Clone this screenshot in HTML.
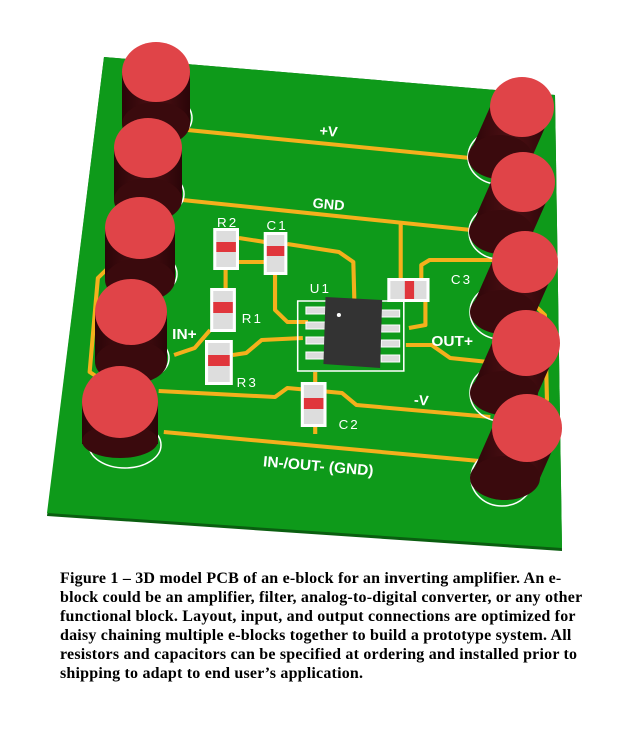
<!DOCTYPE html>
<html><head><meta charset="utf-8"><style>
body{margin:0;background:#fff;width:634px;height:748px;overflow:hidden;position:relative}
.cap{position:absolute;left:60px;top:569px;width:574px;font-family:"Liberation Serif",serif;font-weight:bold;font-size:16px;line-height:19px;color:#000;white-space:nowrap;letter-spacing:0.2px}
</style></head><body>
<svg width="634" height="565" style="position:absolute;left:0;top:0" font-family="Liberation Sans, sans-serif">
<defs>
<linearGradient id="cyl" x1="0" x2="1" y1="0" y2="0">
<stop offset="0" stop-color="#2a0508"/><stop offset="0.5" stop-color="#4e1014"/><stop offset="1" stop-color="#2a0508"/>
</linearGradient>
</defs>
<polygon points="104,57 555,95 562,551 47,516" fill="#0a5e10"/>
<polygon points="104,57 555,95 562,548 47,513" fill="#0e9a1a"/>
<g transform="matrix(1.03,0,0,1,-1,0)">
<g fill="none" stroke="#f4b01c" stroke-width="4" stroke-linejoin="round">
<polyline points="183,130 477,160"/>
<polyline points="178,200 477,232"/>
<polyline points="390,222 390,290"/>
<polyline points="155,391 268,397 280,388 333,393 347,405 477,417"/>
<polyline points="160,432 477,462"/>
<polyline points="307,427 307,434"/>
<polyline points="108,266 96,278 88,372 100,380"/>
<polyline points="505,303 520,305 530,315 532,400 520,405"/>
<polyline points="233,238 258,242"/>
<polyline points="280,244 330,252 344,262 345,300"/>
<polyline points="233,262 258,262"/>
<polyline points="268,275 268,310 280,322 300,322"/>
<polyline points="220,270 220,290"/>
<polyline points="205,330 190,348 170,355"/>
<polyline points="227,355 240,353 255,340 295,338"/>
<polyline points="307,372 307,384"/>
<polyline points="414,296 414,325 398,328"/>
<polyline points="410,280 410,265 418,260 480,260"/>
<polyline points="395,345 420,345 438,358 475,362"/>
</g>
<g fill="#fff">
<rect x="208" y="228" width="25" height="42"/><rect x="257" y="232" width="23" height="43"/>
<rect x="205" y="288" width="25" height="44"/><rect x="200" y="340" width="27" height="45"/>
<rect x="293" y="382" width="25" height="45"/><rect x="377" y="278" width="41" height="24"/>
</g>
<g fill="#ddd">
<rect x="211" y="231" width="19" height="36"/><rect x="260" y="235" width="17" height="37"/>
<rect x="208" y="291" width="19" height="38"/><rect x="203" y="343" width="21" height="39"/>
<rect x="296" y="385" width="19" height="39"/><rect x="380" y="281" width="35" height="18"/>
</g>
<g fill="#e0363c">
<rect x="211" y="242" width="19" height="10"/><rect x="260" y="246" width="17" height="10"/>
<rect x="208" y="302" width="19" height="11"/><rect x="203" y="355" width="21" height="11"/>
<rect x="296" y="398" width="19" height="11"/><rect x="394" y="281" width="9" height="18"/>
</g>
<rect x="290" y="301" width="103" height="70" fill="none" stroke="#fff" stroke-width="1.5"/>
<g fill="#ddd" stroke="#fff"><rect x="298" y="307" width="20" height="7"/><rect x="298" y="322" width="20" height="7"/><rect x="298" y="337" width="20" height="7"/><rect x="298" y="352" width="20" height="7"/>
<rect x="371" y="310" width="18" height="7"/><rect x="371" y="325" width="18" height="7"/><rect x="371" y="340" width="18" height="7"/><rect x="371" y="355" width="18" height="7"/></g>
<polygon points="317,297 372,300 370,368 315,364" fill="#333"/>
<circle cx="330" cy="315" r="2" fill="#fff"/>
<g fill="#fff" font-size="14" font-weight="bold" text-anchor="middle">
<text x="320" y="136" transform="rotate(5 320 131)">+V</text>
<text x="320" y="209" transform="rotate(5 320 204)">GND</text>
<text x="410" y="405" transform="rotate(5 410 400)">-V</text>
<text x="310" y="471" transform="rotate(5 310 466)" font-size="15">IN-/OUT- (GND)</text>
<text x="180" y="339" font-size="15">IN+</text>
<text x="440" y="346" font-size="15">OUT+</text>
</g>
<g fill="#fff" font-size="13" letter-spacing="2" text-anchor="middle">
<text x="222" y="227">R2</text><text x="270" y="230">C1</text><text x="312" y="293">U1</text>
<text x="246" y="323">R1</text><text x="241" y="387">R3</text><text x="340" y="429">C2</text><text x="449" y="284">C3</text>
</g>
</g>
<g fill="none" stroke="#fff" stroke-width="1.5">
<ellipse cx="160" cy="118" rx="32" ry="23"/>
<ellipse cx="152" cy="194" rx="32" ry="23"/>
<ellipse cx="144" cy="274" rx="33" ry="23"/>
<ellipse cx="135" cy="358" rx="34" ry="23"/>
<ellipse cx="125" cy="445" rx="36" ry="23"/>
<ellipse cx="498" cy="157" rx="30" ry="27"/>
<ellipse cx="499" cy="232" rx="30" ry="27"/>
<ellipse cx="500" cy="312" rx="30" ry="27"/>
<ellipse cx="501" cy="393" rx="31" ry="28"/>
<ellipse cx="502" cy="478" rx="31" ry="28"/>
</g>
<g>
<g><rect x="122" y="72" width="68" height="52" fill="url(#cyl)"/><ellipse cx="156" cy="124" rx="34" ry="22" fill="#3a0a0d"/><ellipse cx="156" cy="72" rx="34" ry="30" fill="#e04448"/></g>
<g><polygon points="490,107 554,107 532,157 468,157" fill="url(#cyl)"/><ellipse cx="500" cy="157" rx="32" ry="22" fill="#3a0a0d"/><ellipse cx="522" cy="107" rx="32" ry="30" fill="#e04448"/></g>
<g><rect x="114" y="148" width="68" height="52" fill="url(#cyl)"/><ellipse cx="148" cy="200" rx="34" ry="22" fill="#3a0a0d"/><ellipse cx="148" cy="148" rx="34" ry="30" fill="#e04448"/></g>
<g><polygon points="491,182 555,182 533,232 469,232" fill="url(#cyl)"/><ellipse cx="501" cy="232" rx="32" ry="22" fill="#3a0a0d"/><ellipse cx="523" cy="182" rx="32" ry="30" fill="#e04448"/></g>
<g><rect x="105" y="228" width="70" height="52" fill="url(#cyl)"/><ellipse cx="140" cy="280" rx="35" ry="22" fill="#3a0a0d"/><ellipse cx="140" cy="228" rx="35" ry="31" fill="#e04448"/></g>
<g><polygon points="492,262 558,262 536,312 470,312" fill="url(#cyl)"/><ellipse cx="503" cy="312" rx="33" ry="22" fill="#3a0a0d"/><ellipse cx="525" cy="262" rx="33" ry="31" fill="#e04448"/></g>
<g><rect x="95" y="312" width="72" height="50" fill="url(#cyl)"/><ellipse cx="131" cy="362" rx="36" ry="22" fill="#3a0a0d"/><ellipse cx="131" cy="312" rx="36" ry="33" fill="#e04448"/></g>
<g><polygon points="492,343 560,343 538,393 470,393" fill="url(#cyl)"/><ellipse cx="504" cy="393" rx="34" ry="22" fill="#3a0a0d"/><ellipse cx="526" cy="343" rx="34" ry="33" fill="#e04448"/></g>
<g><rect x="82" y="402" width="76" height="42" fill="url(#cyl)"/><ellipse cx="120" cy="441" rx="38" ry="17" fill="#3a0a0d"/><ellipse cx="120" cy="402" rx="38" ry="36" fill="#e04448"/></g>
<g><polygon points="492,428 562,428 540,478 470,478" fill="url(#cyl)"/><ellipse cx="505" cy="478" rx="35" ry="22" fill="#3a0a0d"/><ellipse cx="527" cy="428" rx="35" ry="34" fill="#e04448"/></g>
</g>
</svg>
<div class="cap">Figure 1 – 3D model PCB of an e-block for an inverting amplifier. An e-<br>block could be an amplifier, filter, analog-to-digital converter, or any other<br>functional block. Layout, input, and output connections are optimized for<br>daisy chaining multiple e-blocks together to build a prototype system. All<br>resistors and capacitors can be specified at ordering and installed prior to<br>shipping to adapt to end user’s application.</div>
</body></html>
